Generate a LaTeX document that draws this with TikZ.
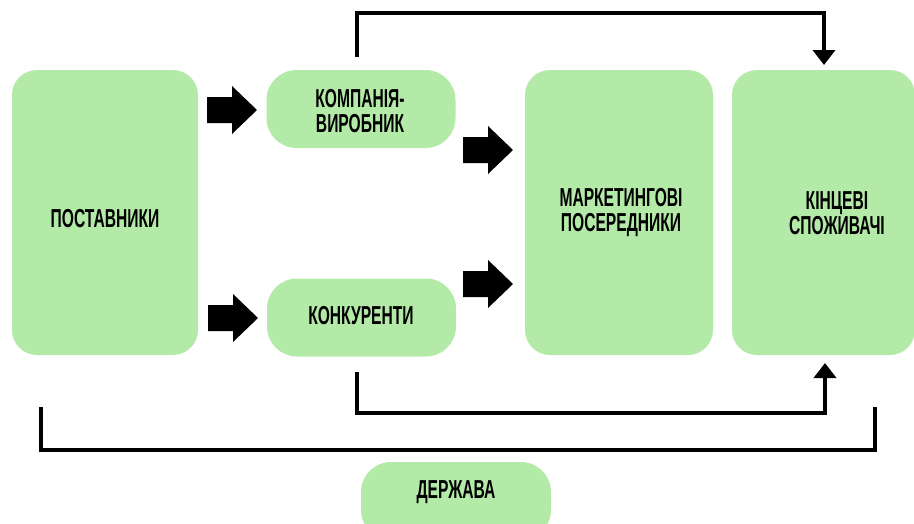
\documentclass[tikz,border=0pt]{standalone}
\usepackage{fontspec}
\setmainfont{Liberation Sans}[FakeStretch=0.6]
\usetikzlibrary{arrows.meta}
\definecolor{boxgreen}{RGB}{180,234,168}
\tikzset{
  bigbox/.style={fill=boxgreen, draw=none, rounded corners=25pt, inner sep=0, minimum width=186pt, minimum height=285pt},
  pill/.style={fill=boxgreen, draw=none, rounded corners=30pt, inner sep=0, minimum width=189pt, minimum height=78pt},
  lbl/.style={font=\bfseries\fontsize{26}{25}\selectfont, align=center, text=black, inner sep=0},
  conn/.style={line width=4pt, draw=black, line join=miter},
  tipend/.style={-{Triangle[width=22pt,length=15pt]}},
  blockarrow/.style={fill=black, draw=none}
}
\newcommand\myblockarrow[2]{%
  \fill[blockarrow] (#1,#2) ++(0,-13) -- ++(25,0) -- ++(0,-11) -- ++(25,24)
    -- ++(-25,24) -- ++(0,-11) -- ++(-25,0) -- cycle;}
\begin{document}
\begin{tikzpicture}[x=1pt,y=-1pt]
\useasboundingbox (0,0) rectangle (914,523);
\clip (0,0) rectangle (914,523);
% boxes
\node[bigbox] (post) at (105,212.5) {};
\node[lbl] (postt) at (105,219) {ПОСТАВНИКИ};
\node[pill] (comp) at (361,109) {};
\node[lbl] (compt) at (360,111) {КОМПАНІЯ-\\ВИРОБНИК};
\node[pill] (konk) at (361.5,317.5) {};
\node[lbl] (konkt) at (361,315.5) {КОНКУРЕНТИ};
\node[bigbox, minimum width=188pt] (mark) at (619,212.5) {};
\node[lbl] (markt) at (621,213) {МАРКЕТИНГОВІ\\ПОСЕРЕДНИКИ};
\node[bigbox, minimum width=183pt] (kinc) at (823.5,212.5) {};
\node[lbl] (kinct) at (837,213) {КІНЦЕВІ\\СПОЖИВАЧІ};
\node[pill, minimum width=190pt] (derzh) at (456,501) {};
\node[lbl] (derzht) at (456,492.5) {ДЕРЖАВА};
% block arrows
\myblockarrow{207}{110}
\myblockarrow{463}{150}
\myblockarrow{208}{318}
\myblockarrow{463}{284}
% connector coordinates
\coordinate (a1) at (357,57);
\coordinate (a2) at (357,13);
\coordinate (a3) at (824,13);
\coordinate (a4) at (824,65);
\coordinate (b1) at (357,372);
\coordinate (b2) at (357,413);
\coordinate (b3) at (825,413);
\coordinate (b4) at (825,363);
\coordinate (c1) at (41,407);
\coordinate (c2) at (41,450);
\coordinate (c3) at (875,450);
\coordinate (c4) at (875,407);
\draw[conn, tipend] (a1) -- (a2) -- (a3) -- (a4);
\draw[conn, tipend] (b1) -- (b2) -- (b3) -- (b4);
\draw[conn] (c1) -- (c2) -- (c3) -- (c4);
\end{tikzpicture}
\end{document}
